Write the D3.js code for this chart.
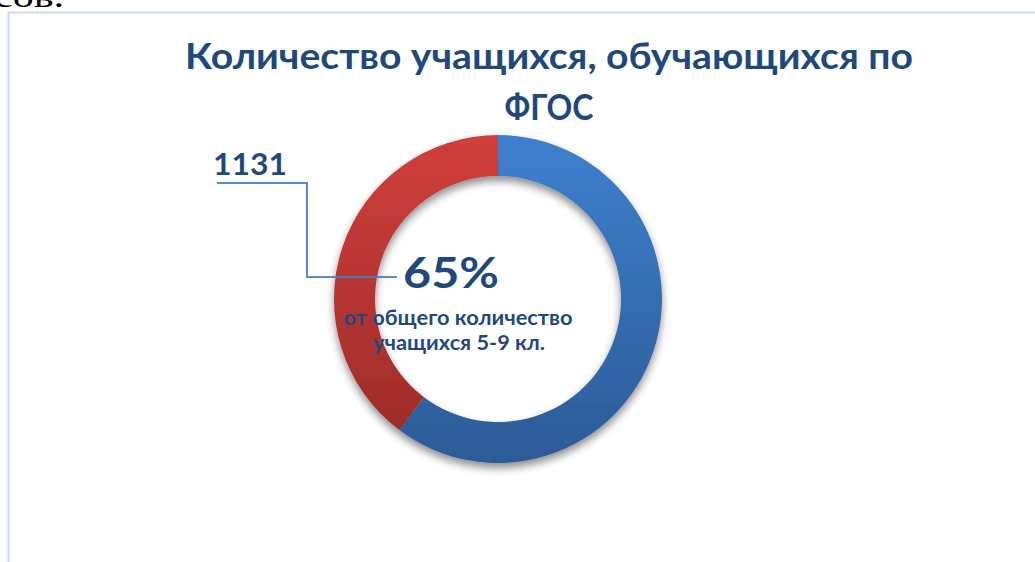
<!DOCTYPE html>
<html><head><meta charset="utf-8">
<script src="https://cdn.jsdelivr.net/npm/d3@7"></script>
<style>html,body{margin:0;padding:0;background:#fff;overflow:hidden}</style>
</head><body>
<script>
const categories = ["ФГОС", "Другие"];
const values = [1716, 1131];
const valueLabels = ["", "1131"];
const titleLines = ["Количество учащихся, обучающихся по", "ФГОС"];
const centerPercent = "65%";
const centerLines = ["от общего количество", "учащихся 5-9 кл."];

const W = 1035, H = 562;
const svg = d3.select("body").append("svg").attr("width", W).attr("height", H);
const defs = svg.append("defs");
const font = "Lato, 'Open Sans', sans-serif";
const textColor = "#1f497d";

// leftover page text above the frame (cut off at top, as in the source)
svg.append("text").attr("x", -6).attr("y", 7).attr("font-family", "'Liberation Serif', serif")
  .attr("font-size", 32).attr("fill", "#000").attr("textLength", 70).attr("lengthAdjust", "spacingAndGlyphs").text("сов.");

// frame
svg.append("path").attr("d", `M8.5,${H} V12.5 H${W}`).attr("fill", "none")
  .attr("stroke", "#c9dcf2").attr("stroke-width", 2);

// title
const titleX = 549;
[[titleLines[0], 69, 728], [titleLines[1], 120, 89]].forEach(([t, y, len]) => {
  svg.append("text").attr("x", titleX).attr("y", y).attr("text-anchor", "middle")
    .attr("font-family", font).attr("font-weight", 700).attr("font-size", 36)
    .attr("fill", textColor).attr("textLength", len).attr("lengthAdjust", "spacingAndGlyphs").text(t);
});

// donut
const cx = 498, cy = 299, rOuter = 164, rInner = 123;
const grads = [["gBlue", "#3e80cf", "#2c5b96"], ["gRed", "#d13f3c", "#982a27"]];
grads.forEach(([id, c1, c2]) => {
  const g = defs.append("linearGradient").attr("id", id).attr("gradientUnits", "userSpaceOnUse")
    .attr("x1", 0).attr("y1", -rOuter).attr("x2", 0).attr("y2", rOuter);
  g.append("stop").attr("offset", 0).attr("stop-color", c1);
  g.append("stop").attr("offset", 1).attr("stop-color", c2);
});
const f = defs.append("filter").attr("id", "shadow").attr("x", "-20%").attr("y", "-20%").attr("width", "140%").attr("height", "150%");
f.append("feGaussianBlur").attr("in", "SourceAlpha").attr("stdDeviation", 4).attr("result", "b");
f.append("feOffset").attr("in", "b").attr("dy", 5).attr("result", "o");
f.append("feComponentTransfer").attr("in", "o").attr("result", "s")
  .append("feFuncA").attr("type", "linear").attr("slope", 0.45);
const m = f.append("feMerge");
m.append("feMergeNode").attr("in", "s");
m.append("feMergeNode").attr("in", "SourceGraphic");

const pie = d3.pie().sort(null).value(d => d)(values);
const arc = d3.arc().innerRadius(rInner).outerRadius(rOuter);
const gD = svg.append("g").attr("transform", `translate(${cx},${cy})`).attr("filter", "url(#shadow)");
gD.selectAll("path").data(pie).join("path")
  .attr("d", arc).attr("fill", (d, i) => `url(#${grads[i][0]})`);

// data label with leader
const lblX = 213, lblY = 175;
svg.append("text").attr("x", lblX).attr("y", lblY).attr("font-family", font).attr("font-weight", 700)
  .attr("font-size", 31).attr("fill", textColor).attr("textLength", 74).attr("lengthAdjust", "spacingAndGlyphs")
  .text(valueLabels[1]);
const leaderY = cy - 22;
svg.append("path").attr("d", `M${lblX + 4},${lblY + 8} H${cx - 191} V${leaderY} H${cx - 101}`)
  .attr("fill", "none").attr("stroke", "#4a7fbf").attr("stroke-width", 2).attr("opacity", 0.9);

// center text
svg.append("text").attr("x", 451).attr("y", 288).attr("text-anchor", "middle").attr("font-family", font)
  .attr("font-weight", 700).attr("font-size", 42).attr("fill", textColor)
  .attr("textLength", 96).attr("lengthAdjust", "spacingAndGlyphs").text(centerPercent);
[[centerLines[0], 458, 325, 229], [centerLines[1], 459, 350, 172]].forEach(([t, x, y, len]) => {
  svg.append("text").attr("x", x).attr("y", y).attr("text-anchor", "middle").attr("font-family", font)
    .attr("font-weight", 700).attr("font-size", 20).attr("fill", textColor)
    .attr("textLength", len).attr("lengthAdjust", "spacingAndGlyphs").text(t);
});
</script>
</body></html>
